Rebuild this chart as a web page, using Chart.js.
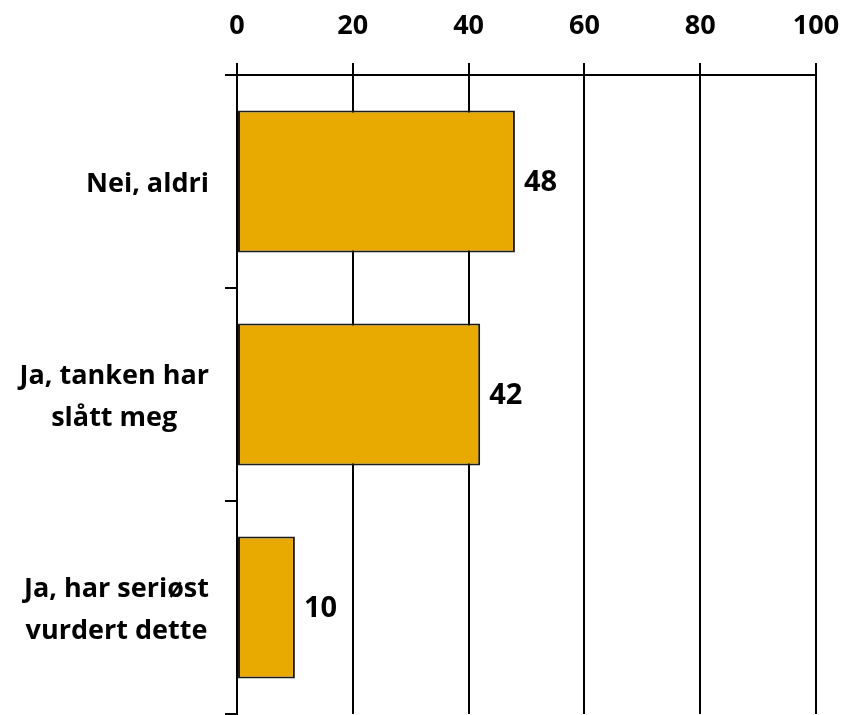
<!DOCTYPE html>
<html>
<head>
<meta charset="utf-8">
<script src="https://cdn.jsdelivr.net/npm/chart.js@4"></script>
<style>
  html, body { margin: 0; padding: 0; background: #fff; }
  #wrap { width: 846px; height: 715px; }
</style>
</head>
<body>
<div id="wrap"><canvas id="chart" width="846" height="715"></canvas></div>
<script>
const categories = [["Nei, aldri"], ["Ja, tanken har", "slått meg"], ["Ja, har seriøst", "vurdert dette"]];
const values = [48, 42, 10];
const xTicks = [0, 20, 40, 60, 80, 100];

const FONT = "'Open Sans', Lato, sans-serif";

// value labels at bar ends + centred multi-line category labels
const textPlugin = {
  id: "textPlugin",
  afterDatasetsDraw(chart) {
    const ctx = chart.ctx;
    const meta = chart.getDatasetMeta(0);
    const yScale = chart.scales.y;
    ctx.save();
    ctx.fillStyle = "#000";
    ctx.textBaseline = "middle";

    ctx.font = "bold 29px " + FONT;
    ctx.textAlign = "left";
    meta.data.forEach((bar, i) => {
      ctx.fillText(String(values[i]), bar.x + 9, bar.y + 1);
    });

    ctx.font = "bold 27px " + FONT;
    ctx.textAlign = "center";
    const rightEdge = 209;
    const lineH = 42;
    categories.forEach((lines, i) => {
      const yc = yScale.getPixelForValue(i);
      const maxW = Math.max(...lines.map(l => ctx.measureText(l).width));
      const xc = rightEdge - maxW / 2;
      lines.forEach((l, j) => {
        ctx.fillText(l, xc, yc + (j - (lines.length - 1) / 2) * lineH + 3);
      });
    });
    ctx.restore();
  }
};

const ctx = document.getElementById("chart").getContext("2d");
new Chart(ctx, {
  type: "bar",
  data: {
    labels: categories,
    datasets: [{
      data: values,
      backgroundColor: "#E8AA00",
      borderColor: "#1a1a1a",
      borderWidth: 2,
      borderSkipped: false,
      categoryPercentage: 1,
      barPercentage: 0.667
    }]
  },
  options: {
    indexAxis: "y",
    responsive: false,
    animation: false,
    layout: { padding: { top: 0, right: 30, bottom: 1, left: 0 } },
    plugins: {
      legend: { display: false },
      tooltip: { enabled: false }
    },
    scales: {
      x: {
        position: "top",
        min: 0,
        max: 100,
        afterBuildTicks: scale => { scale.ticks = xTicks.map(v => ({ value: v })); },
        afterFit: scale => {
          scale.height = 75;
          scale.paddingLeft = 0;
          scale.paddingRight = 0;
        },
        grid: { color: "#000", lineWidth: 2, tickLength: 12, drawTicks: true },
        border: { color: "#000", width: 2 },
        ticks: {
          color: "#000",
          padding: 20,
          font: { family: FONT, size: 27, weight: "bold" }
        }
      },
      y: {
        afterFit: scale => {
          scale.width = 237;
          scale.paddingTop = 0;
          scale.paddingBottom = 0;
        },
        grid: { drawOnChartArea: false, color: "#000", lineWidth: 2, tickLength: 12, offset: true },
        border: { color: "#000", width: 2 },
        ticks: { display: false }
      }
    }
  },
  plugins: [textPlugin]
});
</script>
</body>
</html>
